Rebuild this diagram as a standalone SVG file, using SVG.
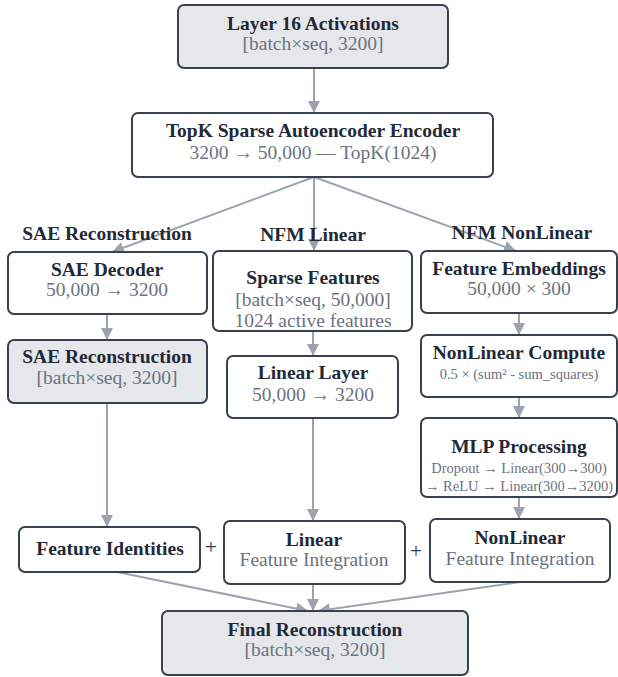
<svg xmlns="http://www.w3.org/2000/svg" width="618" height="677" viewBox="0 0 618 677">
<style>
text{font-family:"Liberation Serif","Times New Roman",serif;text-anchor:middle}
.box{fill:#ffffff;stroke:#374151;stroke-width:2}
.gbox{fill:#e5e7eb;stroke:#374151;stroke-width:2}
.t{font-size:19.5px;font-weight:bold;fill:#1f2937}
.s{font-size:19.5px;fill:#6b7280}
.ss{font-size:14.5px;fill:#6b7280}
.sec{font-size:19.5px;font-weight:bold;fill:#1f2937}
.plus{font-size:22px;fill:#374151}
.c{stroke:#9ca3af;stroke-width:2;fill:none;marker-end:url(#ah)}
</style>
<defs>
<marker id="ah" viewBox="0 0 12 12" refX="12" refY="6" markerWidth="12" markerHeight="12" markerUnits="userSpaceOnUse" orient="auto">
<path d="M0,0 L12,6 L0,12 z" fill="#9ca3af"/>
</marker>
</defs>
<rect width="618" height="677" fill="#ffffff"/>

<g id="connectors">
<line class="c" x1="314" y1="68" x2="314" y2="113"/>
<line class="c" x1="314" y1="177" x2="112" y2="252"/>
<line class="c" x1="314" y1="177" x2="314" y2="251"/>
<line class="c" x1="314" y1="177" x2="516" y2="251"/>
<line class="c" x1="107" y1="314" x2="107" y2="340"/>
<line class="c" x1="107" y1="403" x2="107" y2="527"/>
<line class="c" x1="313" y1="331" x2="313" y2="356"/>
<line class="c" x1="313" y1="418" x2="313" y2="521"/>
<line class="c" x1="519" y1="313" x2="519" y2="335"/>
<line class="c" x1="519" y1="397" x2="519" y2="418"/>
<line class="c" x1="519" y1="497" x2="519" y2="519"/>
<line class="c" x1="117" y1="572" x2="308" y2="611"/>
<line class="c" x1="313" y1="584" x2="313" y2="611"/>
<line class="c" x1="520" y1="582" x2="318" y2="611"/>
</g>

<g id="section-labels">
<text class="sec" x="107" y="240">SAE Reconstruction</text>
<text class="sec" x="313" y="241">NFM Linear</text>
<text class="sec" x="522" y="239">NFM NonLinear</text>
</g>

<g id="layer16">
<rect class="gbox" x="178" y="5" width="270" height="63" rx="6"/>
<text class="t" x="313" y="29.5">Layer 16 Activations</text>
<text class="s" x="313" y="50">[batch×seq, 3200]</text>
</g>

<g id="encoder">
<rect class="box" x="132" y="113" width="361" height="64" rx="6"/>
<text class="t" x="313" y="137">TopK Sparse Autoencoder Encoder</text>
<text class="s" x="313" y="159">3200 → 50,000 — TopK(1024)</text>
</g>

<g id="sae-decoder">
<rect class="box" x="8" y="252" width="199" height="62" rx="6"/>
<text class="t" x="107" y="276">SAE Decoder</text>
<text class="s" x="107" y="296">50,000 → 3200</text>
</g>

<g id="sae-reconstruction">
<rect class="gbox" x="8" y="340" width="199" height="63" rx="6"/>
<text class="t" x="107" y="363">SAE Reconstruction</text>
<text class="s" x="107" y="384">[batch×seq, 3200]</text>
</g>

<g id="sparse-features">
<rect class="box" x="213" y="251" width="199" height="80" rx="6"/>
<text class="t" x="313" y="284">Sparse Features</text>
<text class="s" x="313" y="306">[batch×seq, 50,000]</text>
<text class="s" x="313" y="327">1024 active features</text>
</g>

<g id="linear-layer">
<rect class="box" x="227" y="356" width="171" height="62" rx="6"/>
<text class="t" x="313" y="379">Linear Layer</text>
<text class="s" x="313" y="401">50,000 → 3200</text>
</g>

<g id="feature-embeddings">
<rect class="box" x="421" y="251" width="196" height="62" rx="6"/>
<text class="t" x="519" y="275">Feature Embeddings</text>
<text class="s" x="519" y="295">50,000 × 300</text>
</g>

<g id="nonlinear-compute">
<rect class="box" x="421" y="335" width="196" height="62" rx="6"/>
<text class="t" x="519" y="359">NonLinear Compute</text>
<text class="ss" x="519" y="379" font-size="13.3px">0.5 × (sum² - sum_squares)</text>
</g>

<g id="mlp-processing">
<rect class="box" x="421" y="418" width="196" height="79" rx="6"/>
<text class="t" x="519" y="453">MLP Processing</text>
<text class="ss" x="519" y="473">Dropout → Linear(300→300)</text>
<text class="ss" x="519" y="491">→ ReLU → Linear(300→3200)</text>
</g>

<g id="feature-identities">
<rect class="box" x="19" y="527" width="181" height="45" rx="6"/>
<text class="t" x="110" y="555">Feature Identities</text>
</g>

<g id="linear-integration">
<rect class="box" x="224" y="521" width="181" height="63" rx="6"/>
<text class="t" x="314" y="546">Linear</text>
<text class="s" x="314" y="566">Feature Integration</text>
</g>

<g id="nonlinear-integration">
<rect class="box" x="430" y="519" width="180" height="63" rx="6"/>
<text class="t" x="520" y="544">NonLinear</text>
<text class="s" x="520" y="565">Feature Integration</text>
</g>

<g id="plus-signs">
<text class="plus" x="211" y="554">+</text>
<text class="plus" x="416" y="558">+</text>
</g>

<g id="final-reconstruction">
<rect class="gbox" x="162" y="611" width="306" height="64" rx="6"/>
<text class="t" x="315" y="636">Final Reconstruction</text>
<text class="s" x="315" y="656">[batch×seq, 3200]</text>
</g>
</svg>
